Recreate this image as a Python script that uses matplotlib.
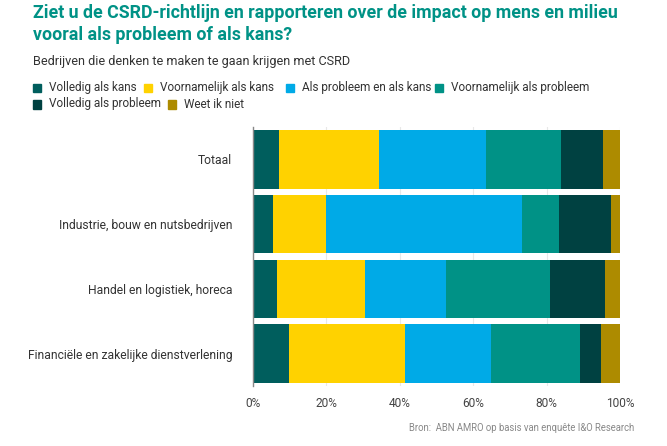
import matplotlib
matplotlib.use("Agg")
import matplotlib.pyplot as plt
import numpy as np

plt.rcParams['font.family'] = ['Roboto', 'DejaVu Sans']

categories = ["Totaal", "Industrie, bouw en nutsbedrijven", "Handel en logistiek, horeca",
              "Financiële en zakelijke dienstverlening"]
series_names = ["Volledig als kans", "Voornamelijk als kans", "Als probleem en als kans",
                "Voornamelijk als probleem", "Volledig als probleem", "Weet ik niet"]
volledig_kans = [7.0, 5.5, 6.6, 9.9]
voornamelijk_kans = [27.4, 14.4, 24.0, 31.6]
probleem_en_kans = [29.2, 53.5, 22.0, 23.3]
voornamelijk_probleem = [20.4, 10.0, 28.2, 24.4]
volledig_probleem = [11.4, 14.2, 15.0, 5.5]
weet_niet = [4.6, 2.4, 4.2, 5.3]
series = [volledig_kans, voornamelijk_kans, probleem_en_kans,
          voornamelijk_probleem, volledig_probleem, weet_niet]
colors = ["#005e5d", "#ffd200", "#00aae7", "#009286", "#004141", "#ad8b00"]
xticks = [0, 20, 40, 60, 80, 100]
xticklabels = ["0%", "20%", "40%", "60%", "80%", "100%"]

W, H = 667, 446
fig = plt.figure(figsize=(W/100, H/100), dpi=100)
ax = fig.add_axes([253/W, 1-386/H, (620-253)/W, (386-127)/H])

y = np.arange(len(categories))
left = np.zeros(len(categories))
for vals, c, name in zip(series, colors, series_names):
    ax.barh(y, vals, left=left, color=c, height=0.9, label=name, edgecolor='none')
    left += np.array(vals)

ax.set_ylim(len(categories)-0.5, -0.5)
ax.set_xlim(0, 100)
ax.set_xticks(xticks)
ax.set_xticklabels(xticklabels, color="#444444", fontsize=8.6)
ax.set_yticks(y)
ax.set_yticklabels(categories, color="#333333", fontsize=8.7)
ax.tick_params(axis='both', length=0)
ax.tick_params(axis='y', pad=15)
ax.tick_params(axis='x', pad=8)
ax.grid(axis='x', color="#e8e8e8", linewidth=0.8)
ax.set_axisbelow(True)
for s in ['top', 'right', 'bottom']:
    ax.spines[s].set_visible(False)
ax.spines['left'].set_color("#888888")
ax.spines['left'].set_linewidth(1.0)

fig.text(33/W, 1-18.5/H, "Ziet u de CSRD-richtlijn en rapporteren over de impact op mens en milieu",
         fontsize=12.75, fontweight='bold', color="#009286", va='baseline', ha='left')
fig.text(33/W, 1-40.5/H, "vooral als probleem of als kans?",
         fontsize=12.75, fontweight='bold', color="#009286", va='baseline', ha='left')
fig.text(33/W, 1-65/H, "Bedrijven die denken te maken te gaan krijgen met CSRD",
         fontsize=9.1, color="#333333", va='baseline', ha='left')

# legend
leg_rows = [[(0, 33), (1, 144), (2, 286), (3, 435)], [(4, 33), (5, 168)]]
row_base = [91, 107.5]
for r, items in enumerate(leg_rows):
    for idx, x0 in items:
        fig.patches.append(plt.Rectangle((x0/W, 1-(row_base[r]+1)/H), 8/W, 8/H,
                                         transform=fig.transFigure, color=colors[idx]))
        fig.text((x0+16)/W, 1-row_base[r]/H, series_names[idx], fontsize=8.5,
                 color="#333333", va='baseline', ha='left')

fig.text(634/W, 1-428/H, "Bron:  ABN AMRO op basis van enquête I&O Research",
         fontsize=6.85, color="#888888", va='center', ha='right')

fig.savefig("out.png", dpi=100)
